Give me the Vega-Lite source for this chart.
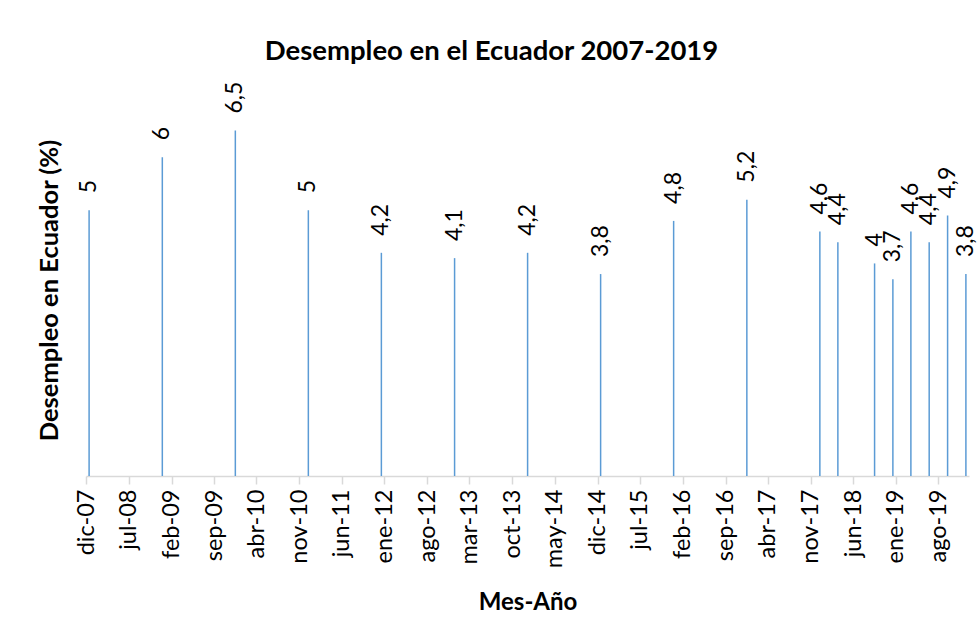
{
  "$schema": "https://vega.github.io/schema/vega-lite/v6.json",
  "autosize": "none",
  "width": 883,
  "height": 372,
  "padding": {"left": 86, "top": 104, "right": 10, "bottom": 168},
  "background": "white",
  "config": {
    "view": {"stroke": null},
    "font": "Lato",
    "locale": {
      "number": {"decimal": ",", "thousands": ".", "grouping": [3], "currency": ["", " €"]},
      "time": {
        "dateTime": "%A, %e de %B de %Y, %X",
        "date": "%d/%m/%Y",
        "time": "%H:%M:%S",
        "periods": ["AM", "PM"],
        "days": ["domingo", "lunes", "martes", "miércoles", "jueves", "viernes", "sábado"],
        "shortDays": ["dom", "lun", "mar", "mié", "jue", "vie", "sáb"],
        "months": ["enero", "febrero", "marzo", "abril", "mayo", "junio", "julio", "agosto", "septiembre", "octubre", "noviembre", "diciembre"],
        "shortMonths": ["ene", "feb", "mar", "abr", "may", "jun", "jul", "ago", "sep", "oct", "nov", "dic"]
      }
    }
  },
  "title": {
    "text": "Desempleo en el Ecuador 2007-2019",
    "font": "Lato",
    "fontSize": 27.5,
    "fontWeight": "bold",
    "color": "#000000",
    "anchor": "middle",
    "dx": -36,
    "offset": 16
  },
  "data": {
    "values": [
      {"fecha": "2007/12/01", "desempleo": 5},
      {"fecha": "2008/12/01", "desempleo": 6},
      {"fecha": "2009/12/01", "desempleo": 6.5},
      {"fecha": "2010/12/01", "desempleo": 5},
      {"fecha": "2011/12/01", "desempleo": 4.2},
      {"fecha": "2012/12/01", "desempleo": 4.1},
      {"fecha": "2013/12/01", "desempleo": 4.2},
      {"fecha": "2014/12/01", "desempleo": 3.8},
      {"fecha": "2015/12/01", "desempleo": 4.8},
      {"fecha": "2016/12/01", "desempleo": 5.2},
      {"fecha": "2017/12/01", "desempleo": 4.6},
      {"fecha": "2018/03/01", "desempleo": 4.4},
      {"fecha": "2018/09/01", "desempleo": 4},
      {"fecha": "2018/12/01", "desempleo": 3.7},
      {"fecha": "2019/03/01", "desempleo": 4.6},
      {"fecha": "2019/06/01", "desempleo": 4.4},
      {"fecha": "2019/09/01", "desempleo": 4.9},
      {"fecha": "2019/12/01", "desempleo": 3.8}
    ]
  },
  "encoding": {
    "x": {
      "field": "fecha",
      "type": "temporal",
      "timeUnit": "yearmonth",
      "bandPosition": 0.5,
      "scale": {
        "domain": [
          {"year": 2007, "month": 12, "date": 1},
          {"year": 2020, "month": 1, "date": 1}
        ]
      },
      "axis": {
        "title": "Mes-Año",
        "titleFont": "Lato",
        "titleFontSize": 24,
        "titleFontWeight": "bold",
        "titleColor": "#000000",
        "titlePadding": 23,
        "format": "%b-%y",
        "labelAngle": -90,
        "labelFont": "Lato",
        "labelFontSize": 23.5,
        "labelColor": "#000000",
        "labelPadding": 5,
        "labelOverlap": false,
        "labelFlush": false,
        "domainColor": "#D9D9D9",
        "domainWidth": 1.5,
        "tickColor": "#D9D9D9",
        "tickWidth": 1.5,
        "tickSize": 8,
        "grid": false,
        "values": [
          {"year": 2007, "month": 12, "date": 1},
          {"year": 2008, "month": 7, "date": 1},
          {"year": 2009, "month": 2, "date": 1},
          {"year": 2009, "month": 9, "date": 1},
          {"year": 2010, "month": 4, "date": 1},
          {"year": 2010, "month": 11, "date": 1},
          {"year": 2011, "month": 6, "date": 1},
          {"year": 2012, "month": 1, "date": 1},
          {"year": 2012, "month": 8, "date": 1},
          {"year": 2013, "month": 3, "date": 1},
          {"year": 2013, "month": 10, "date": 1},
          {"year": 2014, "month": 5, "date": 1},
          {"year": 2014, "month": 12, "date": 1},
          {"year": 2015, "month": 7, "date": 1},
          {"year": 2016, "month": 2, "date": 1},
          {"year": 2016, "month": 9, "date": 1},
          {"year": 2017, "month": 4, "date": 1},
          {"year": 2017, "month": 11, "date": 1},
          {"year": 2018, "month": 6, "date": 1},
          {"year": 2019, "month": 1, "date": 1},
          {"year": 2019, "month": 8, "date": 1}
        ]
      }
    },
    "y": {
      "field": "desempleo",
      "type": "quantitative",
      "scale": {"domain": [0, 7]},
      "axis": {
        "title": "Desempleo en Ecuador (%)",
        "titleFont": "Lato",
        "titleFontSize": 25.5,
        "titleFontWeight": "bold",
        "titleColor": "#000000",
        "titlePadding": 24,
        "labels": false,
        "ticks": false,
        "domain": false,
        "grid": false
      }
    }
  },
  "layer": [
    {
      "mark": {"type": "rule", "color": "#5B9BD5", "strokeWidth": 1.5},
      "encoding": {"y2": {"datum": 0}}
    },
    {
      "mark": {
        "type": "text",
        "angle": -90,
        "align": "left",
        "baseline": "middle",
        "dx": 17,
        "font": "Lato",
        "fontSize": 23,
        "color": "#000000"
      },
      "encoding": {
        "text": {"field": "desempleo", "type": "quantitative", "format": ".1~f"}
      }
    }
  ]
}
